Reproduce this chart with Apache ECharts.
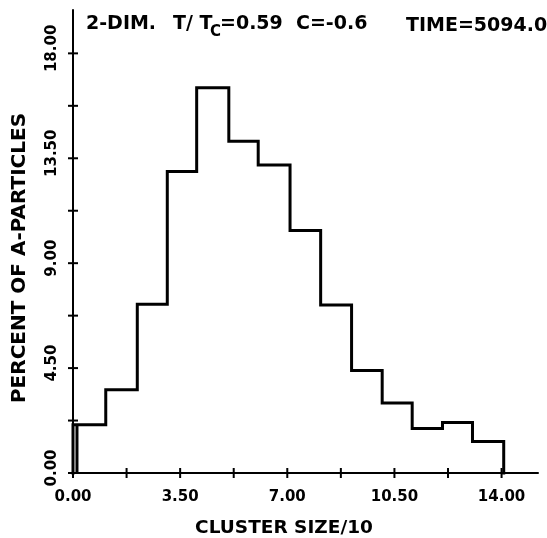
<!DOCTYPE html>
<html>
<head>
<meta charset="utf-8">
<script src="https://cdn.jsdelivr.net/npm/echarts@6/dist/echarts.min.js"></script>
<style>
html,body{margin:0;padding:0;background:#fff;}
#chart{width:547px;height:538px;}
</style>
</head>
<body>
<div id="chart"></div>
<script>
// Histogram bin edges (cluster size / 10) and heights (percent of A-particles)
const binEdges = [0.13, 1.07, 2.10, 3.08, 4.04, 5.09, 6.05, 7.09, 8.09, 9.10, 10.10, 11.08, 12.07, 13.05, 14.07];
const binValues = [2.07, 3.57, 7.24, 12.93, 16.53, 14.23, 13.21, 10.40, 7.21, 4.40, 3.00, 1.91, 2.17, 1.35];
const penStartX = 0;

// Axis ticks and labelled ticks
const xTicks = [0, 1.75, 3.5, 5.25, 7, 8.75, 10.5, 12.25, 14];
const xLabels = [0, 3.5, 7, 10.5, 14];
const yTicks = [0, 2.25, 4.5, 6.75, 9, 11.25, 13.5, 15.75, 18];
const yLabels = [0, 4.5, 9, 13.5, 18];

const xTitle = 'CLUSTER SIZE/10';
const yTitle = 'PERCENT OF A-PARTICLES';

// build step outline
const pts = [];
pts.push([penStartX, 0]);
pts.push([penStartX, binValues[0]]);
pts.push([binEdges[0], binValues[0]]);
pts.push([binEdges[0], 0]);
pts.push([binEdges[0], binValues[0]]);
for (let i = 0; i < binValues.length; i++) {
  if (i > 0) pts.push([binEdges[i], binValues[i]]);
  pts.push([binEdges[i + 1], binValues[i]]);
}
pts.push([binEdges[binEdges.length - 1], 0]);

const FONT = '"DejaVu Sans"';
const fmt = v => Number(v).toFixed(2);
const TICK = 5;

const chart = echarts.init(document.getElementById('chart'), null, {renderer: 'canvas'});

const tStyle = {color: '#000', fontFamily: FONT, fontWeight: 'bold', fontSize: 19};

function crossTick(dir) {
  return function (params, api) {
    const p = api.coord([api.value(0), api.value(1)]);
    const shape = dir === 'x'
      ? {x1: p[0], y1: p[1] - TICK, x2: p[0], y2: p[1] + TICK}
      : {x1: p[0] - TICK, y1: p[1], x2: p[0] + TICK, y2: p[1]};
    return {type: 'line', shape: shape, style: {stroke: '#000', lineWidth: 2}};
  };
}

chart.setOption({
  animation: false,
  backgroundColor: '#fff',
  title: [
    {text: '2-DIM.', left: 86, top: 15, padding: 0, textStyle: tStyle},
    {text: 'T/ T', left: 173, top: 15, padding: 0, textStyle: tStyle},
    {text: 'C', left: 210, top: 25, padding: 0, textStyle: Object.assign({}, tStyle, {fontSize: 15})},
    {text: '=0.59', left: 220, top: 15, padding: 0, textStyle: tStyle},
    {text: 'C=-0.6', left: 296, top: 15, padding: 0, textStyle: tStyle},
    {text: 'TIME=5094.0', left: 406, top: 17, padding: 0, textStyle: tStyle}
  ],
  grid: {left: 73, right: 9, top: 10, bottom: 65, containLabel: false},
  xAxis: {
    type: 'value', min: 0, max: 15.19,
    splitLine: {show: false},
    axisLine: {onZero: false, lineStyle: {color: '#000', width: 2}},
    axisTick: {show: false},
    axisLabel: {customValues: xLabels, formatter: fmt, margin: 17,
      color: '#000', fontFamily: FONT, fontWeight: 'bold', fontSize: 15}
  },
  yAxis: {
    type: 'value', min: 0, max: 19.86,
    splitLine: {show: false},
    axisLine: {onZero: false, lineStyle: {color: '#000', width: 2}},
    axisTick: {show: false},
    axisLabel: {customValues: yLabels, formatter: fmt, margin: 13, rotate: 90,
      padding: [0, 0, 0, 10],
      color: '#000', fontFamily: FONT, fontWeight: 'bold', fontSize: 15}
  },
  graphic: [
    {type: 'text', x: 284, y: 528, style: {text: xTitle, align: 'center', verticalAlign: 'middle',
      font: 'bold 18.5px ' + FONT, fill: '#000'}},
    {type: 'text', x: 20, y: 258, rotation: Math.PI / 2, style: {text: yTitle, align: 'center', verticalAlign: 'middle',
      font: 'bold 20px ' + FONT, fill: '#000'}}
  ],
  series: [
    {
      type: 'custom', clip: false, z: 3, silent: true,
      data: xTicks.map(v => [v, 0]), renderItem: crossTick('x')
    },
    {
      type: 'custom', clip: false, z: 3, silent: true,
      data: yTicks.map(v => [0, v]), renderItem: crossTick('y')
    },
    {
      type: 'line', data: pts, showSymbol: false, symbol: 'none',
      clip: false, z: 5,
      lineStyle: {color: '#000', width: 3, join: 'miter', cap: 'square'}
    }
  ]
});
</script>
</body>
</html>
